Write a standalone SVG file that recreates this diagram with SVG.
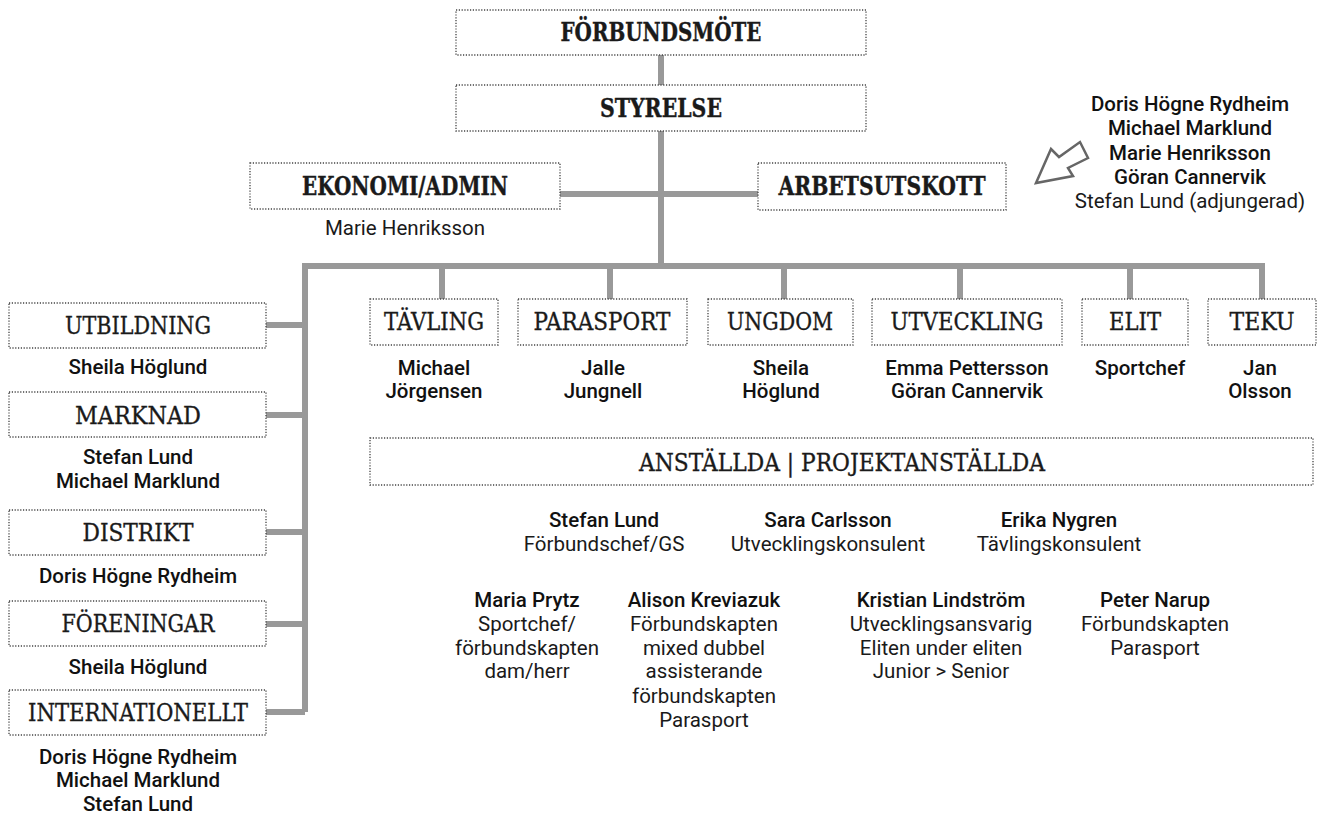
<svg xmlns="http://www.w3.org/2000/svg" width="1320" height="815" viewBox="0 0 1320 815">
<style>
.box{fill:#fff;stroke:#444;stroke-width:1.3;stroke-dasharray:1.2 1.6}
.t{font-family:"DejaVu Serif","Liberation Serif",serif;font-size:25px;fill:#1a1a1a;text-anchor:middle;stroke:#1a1a1a;stroke-width:0.35}
.tb{font-weight:bold;font-size:26px;stroke-width:0.4}
.n{font-family:Roboto,"Liberation Sans",sans-serif;font-size:20.5px;font-weight:500;fill:#111;text-anchor:middle}
.r{font-family:Roboto,"Liberation Sans",sans-serif;font-size:20.5px;font-weight:normal;fill:#1a1a1a;text-anchor:middle}
.c{fill:none;stroke:#999;stroke-width:6;stroke-linecap:butt;stroke-linejoin:miter}
</style>
<rect width="1320" height="815" fill="#fff"/>
<g id="connectors">
<path class="c" d="M661 55V85M661 131V266M560 194H758"/>
<path class="c" d="M305 712V266H1262V299"/>
<path class="c" d="M442 266V299M610 266V299M784 266V299M960 266V299M1130 266V299"/>
<path class="c" d="M266 325H305M266 415H305M266 532H305M266 624H305M266 712H305"/>
</g>
<g id="forbundsmote"><rect class="box" x="456" y="10" width="410" height="45"/><text class="t tb" x="661" y="41" textLength="201" lengthAdjust="spacingAndGlyphs">FÖRBUNDSMÖTE</text></g>
<g id="styrelse"><rect class="box" x="456" y="85" width="410" height="46"/><text class="t tb" x="661" y="117" textLength="122" lengthAdjust="spacingAndGlyphs">STYRELSE</text></g>
<g id="ekonomi"><rect class="box" x="250" y="163" width="310" height="46"/><text class="t tb" x="405" y="195" textLength="206" lengthAdjust="spacingAndGlyphs">EKONOMI/ADMIN</text><text class="r" x="405" y="235">Marie Henriksson</text></g>
<g id="arbetsutskott"><rect class="box" x="758" y="163" width="248" height="47"/><text class="t tb" x="882" y="195" textLength="207" lengthAdjust="spacingAndGlyphs">ARBETSUTSKOTT</text></g>
<g id="au-members">
<polygon points="1036,183 1051,149 1059,157 1080,142 1088,158 1068,168 1073,176" fill="#fff" stroke="#666" stroke-width="2.5" stroke-linejoin="miter"/>
<text class="n" x="1190" y="111">Doris Högne Rydheim</text>
<text class="n" x="1190" y="135">Michael Marklund</text>
<text class="n" x="1190" y="160">Marie Henriksson</text>
<text class="n" x="1190" y="184">Göran Cannervik</text>
<text class="r" x="1190" y="208">Stefan Lund (adjungerad)</text>
</g>
<g id="utbildning"><rect class="box" x="9" y="303" width="257" height="45"/><text class="t" x="138" y="334" textLength="146" lengthAdjust="spacingAndGlyphs">UTBILDNING</text><text class="n" x="138" y="374">Sheila Höglund</text></g>
<g id="marknad"><rect class="box" x="9" y="392" width="257" height="45"/><text class="t" x="138" y="424" textLength="126" lengthAdjust="spacingAndGlyphs">MARKNAD</text><text class="n" x="138" y="464">Stefan Lund</text><text class="n" x="138" y="488">Michael Marklund</text></g>
<g id="distrikt"><rect class="box" x="9" y="510" width="257" height="45"/><text class="t" x="138" y="541" textLength="111" lengthAdjust="spacingAndGlyphs">DISTRIKT</text><text class="n" x="138" y="583">Doris Högne Rydheim</text></g>
<g id="foreningar"><rect class="box" x="9" y="601" width="257" height="45"/><text class="t" x="138" y="632" textLength="153" lengthAdjust="spacingAndGlyphs">FÖRENINGAR</text><text class="n" x="138" y="674">Sheila Höglund</text></g>
<g id="internationellt"><rect class="box" x="9" y="690" width="257" height="45"/><text class="t" x="138" y="721" textLength="220" lengthAdjust="spacingAndGlyphs">INTERNATIONELLT</text><text class="n" x="138" y="764">Doris Högne Rydheim</text><text class="n" x="138" y="787">Michael Marklund</text><text class="n" x="138" y="811">Stefan Lund</text></g>
<g id="tavling"><rect class="box" x="370" y="299" width="128" height="46"/><text class="t" x="434" y="330" textLength="100" lengthAdjust="spacingAndGlyphs">TÄVLING</text><text class="n" x="434" y="375">Michael</text><text class="n" x="434" y="398">Jörgensen</text></g>
<g id="parasport"><rect class="box" x="518" y="299" width="169" height="46"/><text class="t" x="602" y="330" textLength="137" lengthAdjust="spacingAndGlyphs">PARASPORT</text><text class="n" x="603" y="375">Jalle</text><text class="n" x="603" y="398">Jungnell</text></g>
<g id="ungdom"><rect class="box" x="708" y="299" width="145" height="46"/><text class="t" x="780" y="330" textLength="106" lengthAdjust="spacingAndGlyphs">UNGDOM</text><text class="n" x="781" y="375">Sheila</text><text class="n" x="781" y="398">Höglund</text></g>
<g id="utveckling"><rect class="box" x="872" y="299" width="190" height="46"/><text class="t" x="967" y="330" textLength="153" lengthAdjust="spacingAndGlyphs">UTVECKLING</text><text class="n" x="967" y="375">Emma Pettersson</text><text class="n" x="967" y="398">Göran Cannervik</text></g>
<g id="elit"><rect class="box" x="1082" y="299" width="106" height="46"/><text class="t" x="1135" y="330" textLength="52" lengthAdjust="spacingAndGlyphs">ELIT</text><text class="n" x="1140" y="375">Sportchef</text></g>
<g id="teku"><rect class="box" x="1208" y="299" width="108" height="46"/><text class="t" x="1262" y="330" textLength="65" lengthAdjust="spacingAndGlyphs">TEKU</text><text class="n" x="1260" y="375">Jan</text><text class="n" x="1260" y="398">Olsson</text></g>
<g id="anstallda"><rect class="box" x="370" y="438" width="943" height="47"/><text class="t" x="842" y="471" textLength="406" lengthAdjust="spacingAndGlyphs">ANSTÄLLDA | PROJEKTANSTÄLLDA</text></g>
<g id="stefan-lund"><text class="n" x="604" y="527">Stefan Lund</text><text class="r" x="604" y="551">Förbundschef/GS</text></g>
<g id="sara-carlsson"><text class="n" x="828" y="527">Sara Carlsson</text><text class="r" x="828" y="551">Utvecklingskonsulent</text></g>
<g id="erika-nygren"><text class="n" x="1059" y="527">Erika Nygren</text><text class="r" x="1059" y="551">Tävlingskonsulent</text></g>
<g id="maria-prytz"><text class="n" x="527" y="607">Maria Prytz</text><text class="r" x="527" y="631">Sportchef/</text><text class="r" x="527" y="655">förbundskapten</text><text class="r" x="527" y="678">dam/herr</text></g>
<g id="alison-kreviazuk"><text class="n" x="704" y="607">Alison Kreviazuk</text><text class="r" x="704" y="631">Förbundskapten</text><text class="r" x="704" y="655">mixed dubbel</text><text class="r" x="704" y="678">assisterande</text><text class="r" x="704" y="703">förbundskapten</text><text class="r" x="704" y="727">Parasport</text></g>
<g id="kristian-lindstrom"><text class="n" x="941" y="607">Kristian Lindström</text><text class="r" x="941" y="631">Utvecklingsansvarig</text><text class="r" x="941" y="655">Eliten under eliten</text><text class="r" x="941" y="678">Junior &gt; Senior</text></g>
<g id="peter-narup"><text class="n" x="1155" y="607">Peter Narup</text><text class="r" x="1155" y="631">Förbundskapten</text><text class="r" x="1155" y="655">Parasport</text></g>
</svg>
